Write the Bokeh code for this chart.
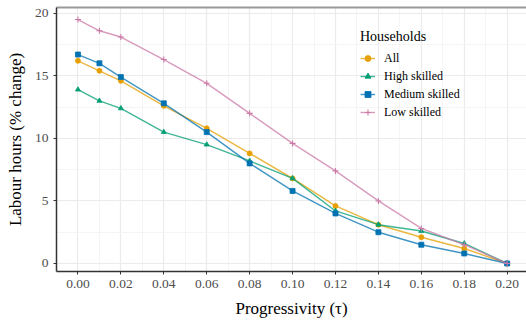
from bokeh.plotting import figure
from bokeh.models import (ColumnDataSource, Legend, LegendItem, Range1d, FixedTicker,
                          LinearAxis, CustomJSTickFormatter)
from bokeh.embed import file_html
from bokeh.resources import INLINE

# Progressivity levels and labour-hour responses (% change) by household group
tau = [0.00, 0.01, 0.02, 0.04, 0.06, 0.08, 0.10, 0.12, 0.14, 0.16, 0.18, 0.20]
hours_all = [16.2, 15.4, 14.6, 12.6, 10.8, 8.8, 6.8, 4.6, 3.1, 2.1, 1.2, 0.0]
hours_high = [13.9, 13.0, 12.4, 10.5, 9.5, 8.2, 6.8, 4.2, 3.1, 2.6, 1.6, 0.0]
hours_medium = [16.7, 16.0, 14.9, 12.8, 10.5, 8.0, 5.8, 4.0, 2.5, 1.5, 0.8, 0.0]
hours_low = [19.5, 18.6, 18.1, 16.3, 14.4, 12.0, 9.6, 7.4, 5.0, 2.8, 1.5, 0.0]

series_names = ["All", "High skilled", "Medium skilled", "Low skilled"]
series_values = [hours_all, hours_high, hours_medium, hours_low]
series_colors = ["#E69F00", "#009E73", "#0072B2", "#CC79A7"]
series_markers = ["circle", "triangle", "square", "cross"]

x_ticks = [0.00, 0.02, 0.04, 0.06, 0.08, 0.10, 0.12, 0.14, 0.16, 0.18, 0.20]
x_minor = [0.01, 0.03, 0.05, 0.07, 0.09, 0.11, 0.13, 0.15, 0.17, 0.19]
y_ticks = [0, 5, 10, 15, 20]
y_minor = [2.5, 7.5, 12.5, 17.5]

FONT = "Liberation Serif"

p = figure(width=526, height=320, output_backend="svg", toolbar_location=None,
           x_range=Range1d(-0.0100, 0.2090), y_range=Range1d(-0.64, 20.46),
           min_border_left=56, min_border_right=0, min_border_top=7, min_border_bottom=47)

p.background_fill_color = "white"
p.border_fill_color = "white"
p.outline_line_color = None

# grid
p.xaxis.ticker = FixedTicker(ticks=x_ticks, minor_ticks=x_minor)
p.yaxis.ticker = FixedTicker(ticks=y_ticks, minor_ticks=y_minor)
for g in (p.xgrid, p.ygrid):
    g.grid_line_color = "#EBEBEB"
    g.grid_line_width = 1.2
    g.minor_grid_line_color = "#F2F2F2"
    g.minor_grid_line_width = 0.8

# axes
for ax in (p.xaxis, p.yaxis):
    ax.axis_line_color = "#333333"
    ax.axis_line_width = 1.5
    ax.major_tick_line_color = "#333333"
    ax.major_tick_in = 0
    ax.major_tick_out = 3
    ax.minor_tick_line_color = None
    ax.major_label_text_font = FONT
    ax.major_label_text_font_size = "13.5px"
    ax.major_label_text_color = "#4D4D4D"
    ax.major_label_standoff = 4
    ax.axis_label_text_font = FONT
    ax.axis_label_text_font_size = "17px"
    ax.axis_label_text_font_style = "normal"
    ax.axis_label_text_color = "black"

p.xaxis.formatter = CustomJSTickFormatter(code="return tick.toFixed(2);")
p.yaxis.formatter = CustomJSTickFormatter(code="return tick.toFixed(0);")
p.xaxis.axis_label = "Progressivity (τ)"
p.yaxis.axis_label = "Labour hours (% change)"
p.xaxis.axis_label_standoff = 8
p.yaxis.axis_label_standoff = 7

# top frame edge
top = LinearAxis(ticker=FixedTicker(ticks=[]), axis_line_color="#999999",
                 axis_line_width=2, major_tick_out=0, major_tick_in=0,
                 major_label_text_font_size="0px")
p.add_layout(top, "above")

items = []
for name, vals, color, marker in zip(series_names, series_values, series_colors, series_markers):
    src = ColumnDataSource(dict(x=tau, y=vals))
    ln = p.line("x", "y", source=src, line_color=color, line_width=1.4, line_alpha=0.75)
    mk = p.scatter("x", "y", source=src, marker=marker, size=5 if marker != "cross" else 6,
                   fill_color=color, line_color=color, line_width=1.1 if marker == "cross" else 0.8)
    items.append(LegendItem(label=name, renderers=[ln, mk]))

legend = Legend(items=items, location=(304, 150), title="Households",
                title_text_font=FONT, title_text_font_size="14px",
                title_text_font_style="normal", title_text_color="black",
                label_text_font=FONT, label_text_font_size="12px", label_text_color="black",
                background_fill_alpha=0, border_line_color=None,
                padding=0, margin=0, spacing=0, glyph_height=18, glyph_width=15,
                label_standoff=9, label_height=18, title_standoff=4)
p.add_layout(legend, "center")

open("out.html", "w").write(file_html(p, INLINE))
